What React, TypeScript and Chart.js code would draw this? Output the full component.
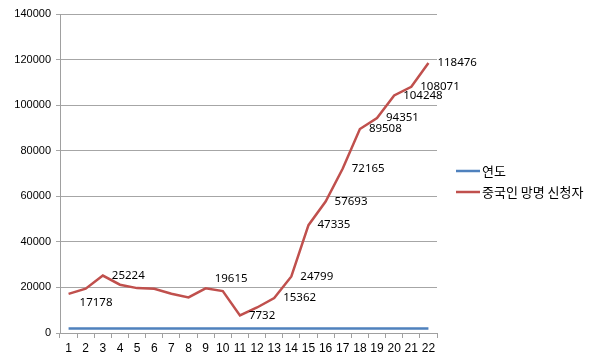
import React, { useEffect, useRef } from "react";
import { Chart, registerables } from "chart.js";

Chart.register(...registerables);

const categories = ["1","2","3","4","5","6","7","8","9","10","11","12","13","14","15","16","17","18","19","20","21","22"];
const yearSeries = [1992,1993,1994,1995,1996,1997,1998,1999,2000,2001,2002,2003,2004,2005,2006,2007,2008,2009,2010,2011,2012,2013];
const asylumSeries = [17178,19430,25224,21190,19700,19400,17200,15600,19615,18400,7732,11200,15362,24799,47335,57693,72165,89508,94351,104248,108071,118476];
const shownLabels = [true,false,true,false,false,false,false,false,true,false,true,false,true,true,true,true,true,true,true,true,true,true];
const seriesNames = ["연도", "중국인 망명 신청자"];
const seriesColors = ["#4F81BD", "#C0504D"];

// small style nudges for two labels that were moved off the line
const labelNudge: Record<number, [number, number]> = { 0: [2, 9], 8: [0, -10] };

const labelPlugin = {
  id: "pointLabels",
  afterDatasetsDraw(chart: any) {
    const ctx = chart.ctx;
    const meta = chart.getDatasetMeta(1);
    ctx.save();
    ctx.font = "11.5px 'Noto Sans', 'DejaVu Sans', sans-serif";
    ctx.fillStyle = "#000";
    ctx.textAlign = "left";
    ctx.textBaseline = "middle";
    meta.data.forEach((pt: any, i: number) => {
      if (!shownLabels[i]) return;
      const n = labelNudge[i] || [0, 0];
      ctx.fillText(String(asylumSeries[i]), pt.x + 9 + n[0], pt.y + n[1]);
    });
    ctx.restore();
  },
};

const legendPlugin = {
  id: "customLegend",
  afterDraw(chart: any) {
    const ctx = chart.ctx;
    ctx.save();
    ctx.font = "13px 'Noto Sans CJK KR', sans-serif";
    ctx.textBaseline = "middle";
    ctx.textAlign = "left";
    seriesNames.forEach((name, i) => {
      const y = 171 + i * 21;
      ctx.strokeStyle = seriesColors[i];
      ctx.lineWidth = 2.5;
      ctx.beginPath();
      ctx.moveTo(456, y);
      ctx.lineTo(480, y);
      ctx.stroke();
      ctx.fillStyle = "#000";
      ctx.fillText(name, 482, y);
    });
    ctx.restore();
  },
};

export default function App() {
  const ref = useRef<HTMLCanvasElement>(null);
  useEffect(() => {
    if (!ref.current) return;
    const chart = new Chart(ref.current, {
      type: "line",
      data: {
        labels: categories,
        datasets: [
          { label: seriesNames[0], data: yearSeries, borderColor: seriesColors[0], backgroundColor: seriesColors[0], borderWidth: 2.5, pointRadius: 0, tension: 0 },
          { label: seriesNames[1], data: asylumSeries, borderColor: seriesColors[1], backgroundColor: seriesColors[1], borderWidth: 2.5, pointRadius: 0, tension: 0 },
        ],
      },
      options: {
        animation: false,
        responsive: false,
        layout: { padding: { left: 8, right: 163, top: 14, bottom: 0 } },
        plugins: { legend: { display: false }, tooltip: { enabled: false } },
        scales: {
          x: {
            offset: true,
            grid: { offset: true, drawOnChartArea: false, drawTicks: true, tickLength: 5, color: "#A0A0A0" },
            border: { color: "#A0A0A0" },
            ticks: { color: "#000", font: { family: "'Liberation Sans', sans-serif", size: 12 }, padding: 3, maxRotation: 0, autoSkip: false },
            afterFit(scale: any) { scale.height = 27; },
          },
          y: {
            min: 0,
            max: 140000,
            ticks: { stepSize: 20000, color: "#000", font: { family: "'Liberation Sans', sans-serif", size: 11 }, padding: 5, callback: (v: any) => String(v) },
            grid: { color: "#A6A6A6", tickLength: 4 },
            border: { color: "#A0A0A0" },
            afterFit(scale: any) { scale.width = 52; },
          },
        },
      },
      plugins: [labelPlugin, legendPlugin],
    });
    return () => chart.destroy();
  }, []);
  return (
    <div style={{ position: "absolute", left: 0, top: 0, width: 600, height: 360, background: "#fff" }}>
      <canvas ref={ref} width={600} height={360} />
    </div>
  );
}
